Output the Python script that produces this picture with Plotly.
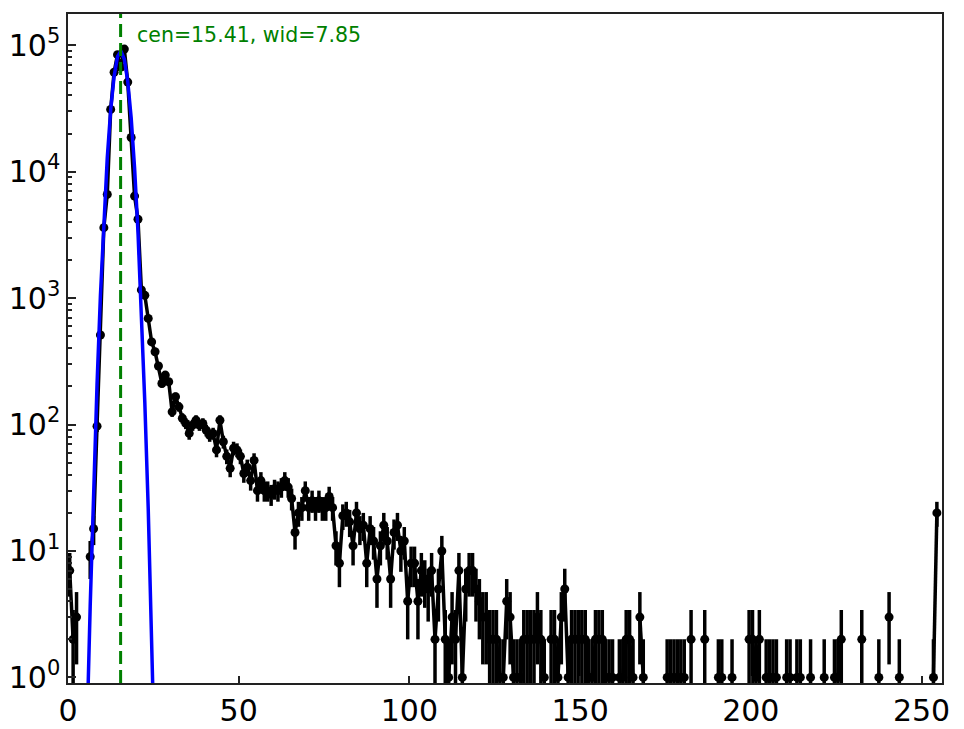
import numpy as np
import plotly.graph_objects as go

''' Data read off the reference '''
## histogram counts per bin (bins 0..255, centres at i+0.5)
counts = [7, 2, 3, 0, 0, 0, 9, 15, 97, 510,
          3600, 6600, 31000, 61000, 84000, 67000, 93000, 51000, 18600, 6400,
          4200, 1160, 1050, 690, 450, 376, 290, 211, 246, 218,
          126, 166, 138, 112, 102, 85, 99, 108, 99, 102,
          90, 82, 85, 63, 108, 73, 56, 45, 65, 63,
          56, 41, 46, 36, 52, 30, 36, 30, 30, 28,
          31, 30, 32, 36, 32, 26, 14, 20, 22, 30,
          22, 25, 22, 25, 22, 22, 27, 22, 11, 8,
          19, 20, 17, 11, 20, 15, 16, 8, 15, 12,
          6, 11, 16, 12, 6, 14, 16, 10, 12, 4,
          8, 8, 4, 7, 6, 5, 7, 2, 5, 10,
          2, 1, 3, 2, 7, 1, 5, 7, 7, 5,
          4, 3, 3, 2, 2, 2, 1, 1, 4, 3,
          1, 1, 1, 2, 2, 2, 2, 3, 2, 1,
          0, 2, 2, 1, 3, 5, 1, 2, 2, 2,
          2, 2, 1, 1, 2, 2, 2, 1, 1, 1,
          0, 1, 1, 2, 2, 1, 0, 3, 1, 0,
          0, 0, 0, 0, 0, 1, 1, 1, 1, 1,
          1, 0, 2, 0, 0, 0, 2, 0, 0, 0,
          1, 1, 0, 0, 1, 0, 0, 0, 0, 2,
          2, 1, 2, 0, 1, 1, 1, 1, 0, 0,
          1, 1, 0, 1, 1, 0, 0, 1, 0, 0,
          0, 1, 0, 0, 1, 1, 2, 0, 0, 0,
          0, 0, 2, 0, 0, 0, 0, 1, 0, 0,
          3, 0, 0, 1, 0, 0, 0, 0, 0, 0,
          0, 0, 0, 1, 20, 0]

## fit parameters (from the label on the plot)
fit_amp = 9.0e4
fit_cen = 15.41
fit_wid = 7.85

ytick_vals = [1, 10, 100, 1000, 10000, 100000]
ytick_text = ["10<sup>%d</sup>" % k for k in range(6)]
xtick_vals = [0, 50, 100, 150, 200, 250]

''' Build series '''
x = np.arange(len(counts)) + 0.5
y = [c if c > 0 else None for c in counts]
err = [np.sqrt(c) if c > 0 else None for c in counts]

model = fit_amp * np.exp(-(x - fit_cen) ** 2 / fit_wid)
model = [m if m > 1e-3 else None for m in model]

fig = go.Figure()
fig.add_trace(go.Scatter(x=x, y=y, mode='lines+markers',
                         line=dict(color='black', width=3.5),
                         marker=dict(color='black', size=9),
                         error_y=dict(type='data', array=err, visible=True,
                                      color='black', thickness=3.5, width=0),
                         showlegend=False))
fig.add_trace(go.Scatter(x=x, y=model, mode='lines',
                         line=dict(color='#0000ff', width=3.5),
                         showlegend=False))

## centre marker + label
fig.add_shape(type='line', x0=fit_cen, x1=fit_cen, y0=0, y1=1,
              xref='x', yref='paper',
              line=dict(color='green', width=3, dash='13px,6px'))
fig.add_annotation(x=19.55, y=5.08, xref='x', yref='y',
                   text='cen=%.2f, wid=%.2f' % (fit_cen, fit_wid),
                   showarrow=False, xanchor='left', yanchor='middle',
                   font=dict(color='green', size=20.5, family='DejaVu Sans'))

fig.update_xaxes(range=[0, 256], tickvals=xtick_vals, automargin=False,
                 ticks='inside', ticklen=7, tickwidth=1.5, tickcolor='#222',
                 showline=True, linecolor='#222', linewidth=1.5, mirror=True,
                 showgrid=False, zeroline=False,
                 tickfont=dict(size=30, color='black', family='DejaVu Sans'))
fig.update_yaxes(type='log', range=[-0.044, 5.246], automargin=False,
                 tickvals=ytick_vals, ticktext=ytick_text,
                 ticks='inside', ticklen=8, tickwidth=1.5, tickcolor='#222',
                 minor=dict(ticks='inside', ticklen=4, tickcolor='#222', dtick='D1', showgrid=False),
                 showline=True, linecolor='#222', linewidth=1.5, mirror=True,
                 showgrid=False, zeroline=False,
                 tickfont=dict(size=30, color='black', family='DejaVu Sans'))

## page body adds ~8px offset, margins compensate
fig.update_layout(width=964, height=729,
                  margin=dict(l=60, r=30, t=6, b=54),
                  paper_bgcolor='white', plot_bgcolor='white')

fig.write_html("out.html")
